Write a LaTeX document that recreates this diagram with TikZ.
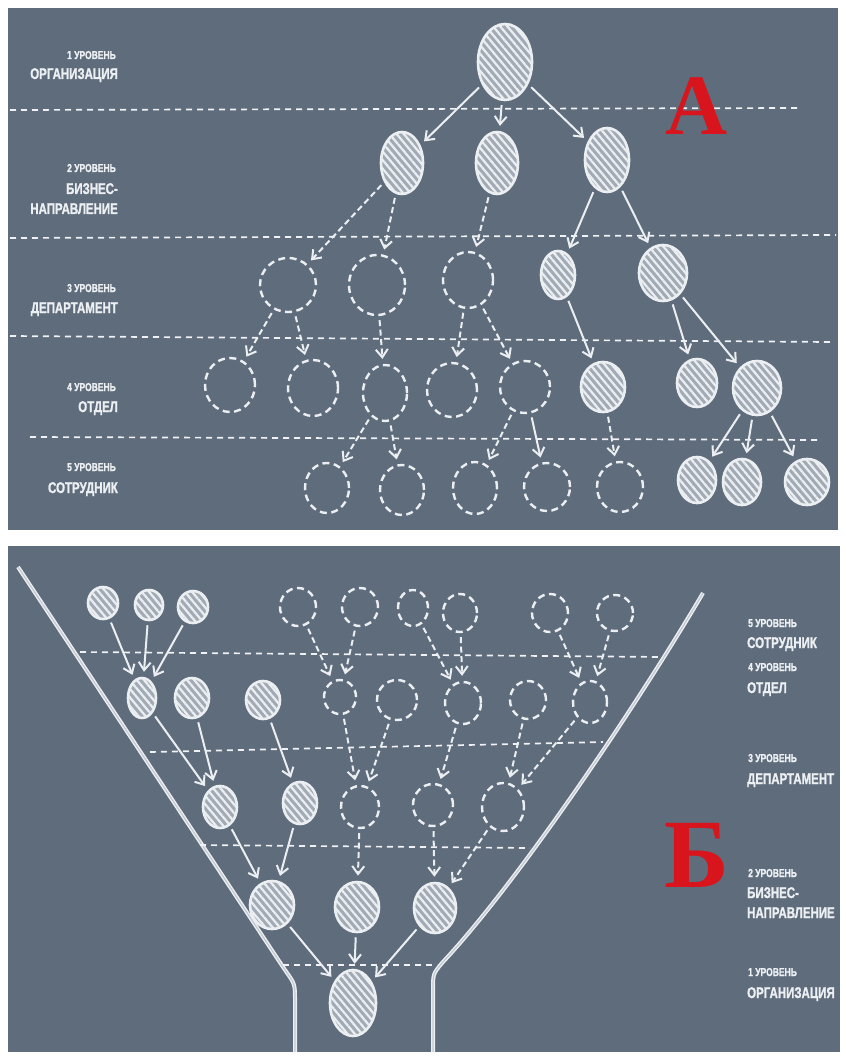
\documentclass[tikz,border=0pt]{standalone}
\usepackage{fontspec}
\usetikzlibrary{shapes.geometric,arrows.meta,patterns.meta}
\newfontfamily\labfont[FakeStretch=0.74,FakeBold=1.2]{Liberation Sans Bold}
\newfontfamily\redfont{Liberation Serif Bold}
\definecolor{bg}{HTML}{5F6C7C}
\definecolor{chalk}{HTML}{ECEFF2}
\definecolor{nodefill}{HTML}{A2ABB5}
\definecolor{redl}{HTML}{D8141C}
\tikzset{
  solidnode/.style={ellipse, draw=chalk, line width=2.6pt, fill=nodefill, inner sep=0pt,
    postaction={pattern={Lines[angle=-50,distance=5.5pt,line width=2.2pt]}, pattern color=chalk}},
  dashnode/.style={ellipse, draw=chalk, line width=2.4pt, dash pattern=on 7pt off 4.5pt, inner sep=0pt},
  arr/.style={draw=chalk, line width=2pt, -{Straight Barb[length=8pt,width=12pt,line width=2pt]}, shorten >=5pt, shorten <=4pt},
  darr/.style={arr, dash pattern=on 6pt off 3.5pt},
  levelline/.style={draw=chalk!80, line width=1.7pt, dash pattern=on 6pt off 5pt},
  smalllab/.style={text=chalk!88, font=\labfont\fontsize{11.5}{12}\selectfont, inner sep=0pt},
  biglab/.style={text=chalk!92, font=\labfont\fontsize{15.5}{16}\selectfont, inner sep=0pt},
  funnel/.style={draw=chalk, line width=1.4pt, double=chalk!70!bg, double distance=1.2pt},
  bigletter/.style={text=redl, inner sep=0pt}
}
\begin{document}
\begin{tikzpicture}[x=1pt,y=-1pt]
\useasboundingbox (0,0) rectangle (845,1056);
\fill[white] (0,0) rectangle (845,1056);
\fill[bg] (8,8) rectangle (838,530);
\fill[bg] (8,546) rectangle (840,1052);

% ---------- Panel A ----------
\draw[levelline] (10,110) -- (800,108);
\draw[levelline] (10,238) -- (836,235);
\draw[levelline] (10,336) -- (830,342);
\draw[levelline] (30,437) -- (820,440);

\node[smalllab, anchor=base east] (la1a) at (116,59) {1 УРОВЕНЬ};
\node[biglab, anchor=base east] (la1b) at (118,79) {ОРГАНИЗАЦИЯ};
\node[smalllab, anchor=base east] (la2a) at (116,172) {2 УРОВЕНЬ};
\node[biglab, anchor=base east] (la2b) at (118,194) {БИЗНЕС-};
\node[biglab, anchor=base east] (la2c) at (118,214) {НАПРАВЛЕНИЕ};
\node[smalllab, anchor=base east] (la3a) at (116,292) {3 УРОВЕНЬ};
\node[biglab, anchor=base east] (la3b) at (118,313) {ДЕПАРТАМЕНТ};
\node[smalllab, anchor=base east] (la4a) at (116,391) {4 УРОВЕНЬ};
\node[biglab, anchor=base east] (la4b) at (118,412) {ОТДЕЛ};
\node[smalllab, anchor=base east] (la5a) at (116,471) {5 УРОВЕНЬ};
\node[biglab, anchor=base east] (la5b) at (118,493) {СОТРУДНИК};

\node[bigletter, font=\redfont\fontsize{86}{86}\selectfont, anchor=base] (letA) at (697,135) {А};

\node[solidnode, minimum width=54pt, minimum height=76pt] (a1) at (505,62) {};

\node[solidnode, minimum width=42pt, minimum height=62pt] (a2a) at (402,163) {};
\node[solidnode, minimum width=42pt, minimum height=62pt] (a2b) at (497,163) {};
\node[solidnode, minimum width=44pt, minimum height=64pt] (a2c) at (607,160) {};

\node[dashnode, minimum width=56pt, minimum height=54pt] (a3a) at (288,285) {};
\node[dashnode, minimum width=56pt, minimum height=60pt] (a3b) at (377,285) {};
\node[dashnode, minimum width=50pt, minimum height=56pt] (a3c) at (468,280) {};
\node[solidnode, minimum width=34pt, minimum height=48pt] (a3d) at (558,275) {};
\node[solidnode, minimum width=48pt, minimum height=56pt] (a3e) at (663,273) {};

\node[dashnode, minimum width=50pt, minimum height=54pt] (a4a) at (230,385) {};
\node[dashnode, minimum width=50pt, minimum height=56pt] (a4b) at (313,388) {};
\node[dashnode, minimum width=44pt, minimum height=56pt] (a4c) at (385,393) {};
\node[dashnode, minimum width=50pt, minimum height=54pt] (a4d) at (452,390) {};
\node[dashnode, minimum width=50pt, minimum height=52pt] (a4e) at (525,387) {};
\node[solidnode, minimum width=44pt, minimum height=50pt] (a4f) at (603,387) {};
\node[solidnode, minimum width=40pt, minimum height=48pt] (a4g) at (697,383) {};
\node[solidnode, minimum width=48pt, minimum height=54pt] (a4h) at (757,388) {};

\node[dashnode, minimum width=44pt, minimum height=50pt] (a5a) at (327,488) {};
\node[dashnode, minimum width=44pt, minimum height=50pt] (a5b) at (402,490) {};
\node[dashnode, minimum width=44pt, minimum height=52pt] (a5c) at (475,488) {};
\node[dashnode, minimum width=46pt, minimum height=48pt] (a5d) at (547,487) {};
\node[dashnode, minimum width=46pt, minimum height=50pt] (a5e) at (620,487) {};
\node[solidnode, minimum width=38pt, minimum height=46pt] (a5f) at (697,480) {};
\node[solidnode, minimum width=38pt, minimum height=46pt] (a5g) at (742,482) {};
\node[solidnode, minimum width=44pt, minimum height=46pt] (a5h) at (807,482) {};

\draw[arr] (a1) -- (a2a);
\draw[arr] (a1) -- (a2b);
\draw[arr] (a1) -- (a2c);
\draw[darr] (a2a) -- (a3a);
\draw[darr] (a2a) -- (a3b);
\draw[darr] (a2b) -- (a3c);
\draw[arr] (a2c) -- (a3d);
\draw[arr] (a2c) -- (a3e);
\draw[darr] (a3a) -- (a4a);
\draw[darr] (a3a) -- (a4b);
\draw[darr] (a3b) -- (a4c);
\draw[darr] (a3c) -- (a4d);
\draw[darr] (a3c) -- (a4e);
\draw[arr] (a3d) -- (a4f);
\draw[arr] (a3e) -- (a4g);
\draw[arr] (a3e) -- (a4h);
\draw[darr] (a4c) -- (a5a);
\draw[darr] (a4c) -- (a5b);
\draw[darr] (a4e) -- (a5c);
\draw[arr] (a4e) -- (a5d);
\draw[darr] (a4f) -- (a5e);
\draw[arr] (a4h) -- (a5f);
\draw[arr] (a4h) -- (a5g);
\draw[arr] (a4h) -- (a5h);

% ---------- Panel B ----------
\draw[funnel] (18,567) -- (285,970) .. controls (295,984) .. (295,1000) -- (295,1052);
\draw[funnel] (703,593) .. controls (640,700) and (520,880) .. (442,963) .. controls (433,974) .. (433,990) -- (433,1052);

\draw[levelline] (80,652) -- (663,657);
\draw[levelline] (150,752) -- (603,742);
\draw[levelline] (200,845) -- (530,848);
\draw[levelline] (283,965) -- (437,965);

\node[smalllab, anchor=base west] (lb5a) at (748,627) {5 УРОВЕНЬ};
\node[biglab, anchor=base west] (lb5b) at (747,648) {СОТРУДНИК};
\node[smalllab, anchor=base west] (lb4a) at (748,671) {4 УРОВЕНЬ};
\node[biglab, anchor=base west] (lb4b) at (747,693) {ОТДЕЛ};
\node[smalllab, anchor=base west] (lb3a) at (748,762) {3 УРОВЕНЬ};
\node[biglab, anchor=base west] (lb3b) at (747,784) {ДЕПАРТАМЕНТ};
\node[smalllab, anchor=base west] (lb2a) at (748,877) {2 УРОВЕНЬ};
\node[biglab, anchor=base west] (lb2b) at (747,898) {БИЗНЕС-};
\node[biglab, anchor=base west] (lb2c) at (747,918) {НАПРАВЛЕНИЕ};
\node[smalllab, anchor=base west] (lb1a) at (748,976) {1 УРОВЕНЬ};
\node[biglab, anchor=base west] (lb1b) at (747,998) {ОРГАНИЗАЦИЯ};

\node[bigletter, font=\redfont\fontsize{98}{98}\selectfont, anchor=base] (letB) at (697,887) {Б};

\node[solidnode, minimum width=30pt, minimum height=32pt] (b5a) at (103,603) {};
\node[solidnode, minimum width=28pt, minimum height=30pt] (b5b) at (149,605) {};
\node[solidnode, minimum width=30pt, minimum height=32pt] (b5c) at (193,607) {};
\node[dashnode, minimum width=36pt, minimum height=38pt] (b5d) at (298,607) {};
\node[dashnode, minimum width=36pt, minimum height=38pt] (b5e) at (360,607) {};
\node[dashnode, minimum width=30pt, minimum height=36pt] (b5f) at (413,608) {};
\node[dashnode, minimum width=34pt, minimum height=38pt] (b5g) at (460,613) {};
\node[dashnode, minimum width=36pt, minimum height=38pt] (b5h) at (550,613) {};
\node[dashnode, minimum width=36pt, minimum height=36pt] (b5i) at (615,613) {};

\node[solidnode, minimum width=28pt, minimum height=40pt] (b4a) at (142,698) {};
\node[solidnode, minimum width=34pt, minimum height=40pt] (b4b) at (192,698) {};
\node[solidnode, minimum width=34pt, minimum height=38pt] (b4c) at (263,700) {};
\node[dashnode, minimum width=32pt, minimum height=34pt] (b4d) at (340,697) {};
\node[dashnode, minimum width=40pt, minimum height=40pt] (b4e) at (397,700) {};
\node[dashnode, minimum width=36pt, minimum height=42pt] (b4f) at (463,703) {};
\node[dashnode, minimum width=36pt, minimum height=38pt] (b4g) at (528,700) {};
\node[dashnode, minimum width=34pt, minimum height=42pt] (b4h) at (590,702) {};

\node[solidnode, minimum width=34pt, minimum height=42pt] (b3a) at (220,807) {};
\node[solidnode, minimum width=34pt, minimum height=42pt] (b3b) at (300,803) {};
\node[dashnode, minimum width=38pt, minimum height=42pt] (b3c) at (360,807) {};
\node[dashnode, minimum width=40pt, minimum height=42pt] (b3d) at (433,805) {};
\node[dashnode, minimum width=42pt, minimum height=48pt] (b3e) at (503,807) {};

\node[solidnode, minimum width=44pt, minimum height=48pt] (b2a) at (272,905) {};
\node[solidnode, minimum width=44pt, minimum height=50pt] (b2b) at (357,907) {};
\node[solidnode, minimum width=42pt, minimum height=50pt] (b2c) at (435,908) {};

\node[solidnode, minimum width=46pt, minimum height=66pt] (b1) at (353,1003) {};

\draw[arr] (b5a) -- (b4a);
\draw[arr] (b5b) -- (b4a);
\draw[arr] (b5c) -- (b4a);
\draw[darr] (b5d) -- (b4d);
\draw[darr] (b5e) -- (b4d);
\draw[darr] (b5f) -- (b4f);
\draw[darr] (b5g) -- (b4f);
\draw[darr] (b5h) -- (b4h);
\draw[darr] (b5i) -- (b4h);
\draw[arr] (b4a) -- (b3a);
\draw[arr] (b4b) -- (b3a);
\draw[arr] (b4c) -- (b3b);
\draw[darr] (b4d) -- (b3c);
\draw[darr] (b4e) -- (b3c);
\draw[darr] (b4f) -- (b3d);
\draw[darr] (b4g) -- (b3e);
\draw[darr] (b4h) -- (b3e);
\draw[arr] (b3a) -- (b2a);
\draw[arr] (b3b) -- (b2a);
\draw[darr] (b3c) -- (b2b);
\draw[darr] (b3d) -- (b2c);
\draw[darr] (b3e) -- (b2c);
\draw[arr] (b2a) -- (b1);
\draw[arr] (b2b) -- (b1);
\draw[arr] (b2c) -- (b1);
\end{tikzpicture}
\end{document}
